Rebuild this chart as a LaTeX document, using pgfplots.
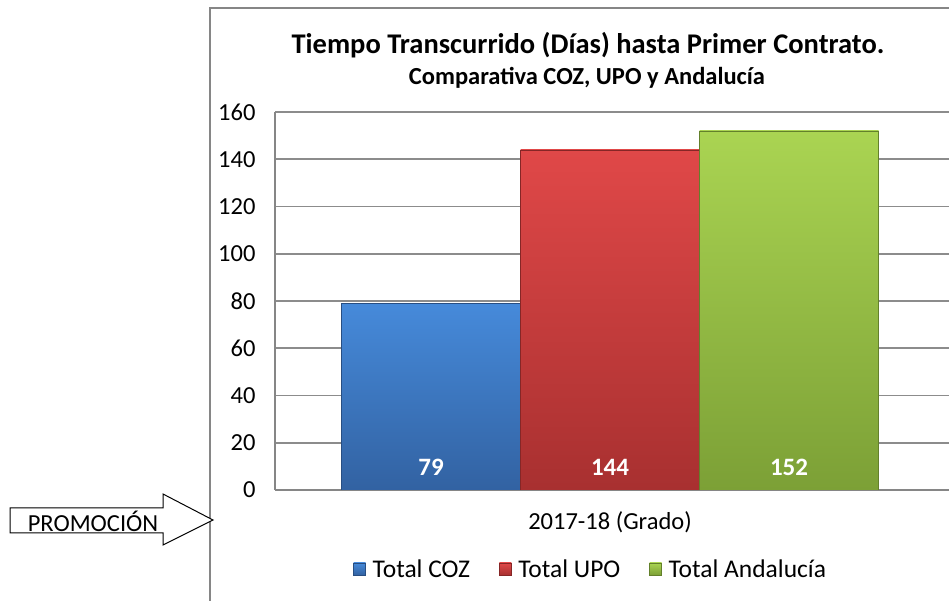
\documentclass[border=0pt]{standalone}
\usepackage{fontspec}
\setmainfont{Carlito}
\usepackage{pgfplots}
\pgfplotsset{compat=1.18}
\definecolor{framegray}{RGB}{134,134,134}
\definecolor{gridgray}{RGB}{140,140,140}
\definecolor{bluetop}{RGB}{70,138,218}
\definecolor{bluebot}{RGB}{50,98,162}
\definecolor{redtop}{RGB}{224,72,72}
\definecolor{redbot}{RGB}{168,48,48}
\definecolor{greentop}{RGB}{170,212,82}
\definecolor{greenbot}{RGB}{124,160,54}
\begin{document}
\begin{tikzpicture}[x=1pt,y=1pt]
\useasboundingbox (0,0) rectangle (949,601);
\clip (0,0) rectangle (949,601);
\draw[framegray, line width=2pt] (210,593) rectangle (1000,-20);
\draw[black, line width=1pt, fill=white] (10,93) -- (163,93) -- (163,107) -- (213,81) -- (163,56) -- (163,68) -- (10,68) -- cycle;
\node[font=\fontsize{24.5}{28}\selectfont] at (93,80) {PROMOCIÓN};
\node[font=\bfseries\fontsize{28.5}{33}\selectfont] at (588,556) {Tiempo Transcurrido (Días) hasta Primer Contrato.};
\node[font=\bfseries\fontsize{24.5}{28}\selectfont] at (587,523) {Comparativa COZ, UPO y Andalucía};
\begin{axis}[
  at={(275pt,111pt)}, anchor=south west,
  scale only axis, width=685pt, height=378pt,
  xmin=-1.8715, xmax=1.9553, ymin=0, ymax=160,
  ytick={0,20,...,160}, xtick={0}, xticklabels={2017-18 (Grado)},
  ymajorgrids, grid style={gridgray, line width=1.6pt},
  axis x line*=bottom, axis y line*=left,
  axis line style={framegray, line width=1.6pt},
  major tick length=0pt,
  tick label style={font=\fontsize{24.5}{28}\selectfont},
  /pgf/number format/assume math mode=true,
  yticklabel style={xshift=-16pt},
  xticklabel style={yshift=-18pt},
  legend style={at={(0.461,-0.209)}, anchor=center, draw=none, fill=none,
    legend columns=3, font=\fontsize{25.5}{29}\selectfont,
    /tikz/every even column/.append style={column sep=27pt}},
  legend image code/.code={\path[draw=none, fill=none, shade=none] (0pt,0pt) -- (17pt,0pt); \draw[#1] (0pt,-6pt) rectangle (12pt,6pt);},
]
\addplot[ybar, bar width=1, bar shift=0pt, draw=bluebot!80!black, top color=bluetop, bottom color=bluebot] coordinates {(-1,79)};
\addlegendentry{Total COZ}
\addplot[ybar, bar width=1, bar shift=0pt, draw=redbot!80!black, top color=redtop, bottom color=redbot] coordinates {(0,144)};
\addlegendentry{Total UPO}
\addplot[ybar, bar width=1, bar shift=0pt, draw=greenbot!80!black, top color=greentop, bottom color=greenbot] coordinates {(1,152)};
\addlegendentry{Total Andalucía}
\addplot[forget plot, only marks, mark=none, nodes near coords, point meta=explicit symbolic,
  every node near coord/.append style={font=\bfseries\fontsize{25}{28}\selectfont, text=white, anchor=center}]
  coordinates {(-1,9.74) [79] (0,9.74) [144] (1,9.74) [152]};
\end{axis}
\end{tikzpicture}
\end{document}
